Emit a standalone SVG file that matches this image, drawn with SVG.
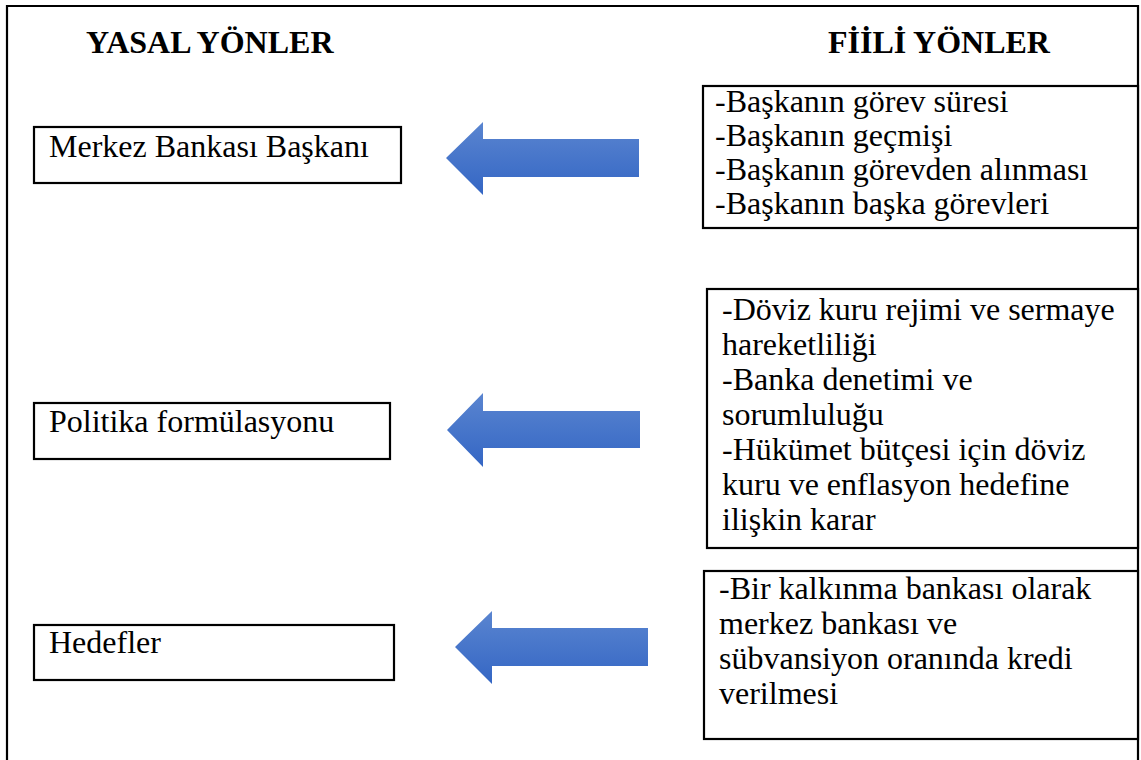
<svg xmlns="http://www.w3.org/2000/svg" width="1141" height="760" viewBox="0 0 1141 760">
<defs>
<linearGradient id="ag" x1="0" y1="0" x2="0" y2="1">
<stop offset="0" stop-color="#5a85d0"/>
<stop offset="1" stop-color="#3466c4"/>
</linearGradient>
<style>
.box{fill:#fff;stroke:#000;stroke-width:2.2}
text{font-family:'Liberation Serif','Times New Roman',Times,serif;font-size:32px;fill:#000;font-weight:400;font-style:normal}
.h{font-weight:700}
.arr{fill:url(#ag)}
</style>
</defs>
<rect width="1141" height="760" fill="#fff"/>
<path d="M7,760 V6 H1138 V760" fill="none" stroke="#000" stroke-width="2.2"/>
<g id="heading-yasal"><text class="h" x="86" y="53">YASAL YÖNLER</text></g>
<g id="heading-fiili"><text class="h" x="828" y="53">FİİLİ YÖNLER</text></g>

<g id="node-merkez">
<rect class="box" x="34" y="127" width="367" height="56"/>
<text x="49" y="157">Merkez Bankası Başkanı</text>
</g>
<g id="node-politika">
<rect class="box" x="34" y="403" width="356" height="56"/>
<text x="49" y="432">Politika formülasyonu</text>
</g>
<g id="node-hedefler">
<rect class="box" x="34" y="625" width="360" height="55"/>
<text x="49" y="653">Hedefler</text>
</g>

<g id="node-fiili-1">
<rect class="box" x="703" y="86" width="435" height="142"/>
<text x="715" y="112">-Başkanın görev süresi</text>
<text x="715" y="146">-Başkanın geçmişi</text>
<text x="715" y="180">-Başkanın görevden alınması</text>
<text x="715" y="214">-Başkanın başka görevleri</text>
</g>
<g id="node-fiili-2">
<rect class="box" x="707" y="289" width="431" height="259"/>
<text x="722" y="320">-Döviz kuru rejimi ve sermaye</text>
<text x="722" y="355">hareketliliği</text>
<text x="722" y="390">-Banka denetimi ve</text>
<text x="722" y="425">sorumluluğu</text>
<text x="722" y="460">-Hükümet bütçesi için döviz</text>
<text x="722" y="495">kuru ve enflasyon hedefine</text>
<text x="722" y="530">ilişkin karar</text>
</g>
<g id="node-fiili-3">
<rect class="box" x="704" y="571" width="434" height="168"/>
<text x="719" y="599">-Bir kalkınma bankası olarak</text>
<text x="719" y="634">merkez bankası ve</text>
<text x="719" y="669">sübvansiyon oranında kredi</text>
<text x="719" y="704">verilmesi</text>
</g>

<g id="connectors">
<polygon class="arr" points="446,158 483,122 483,139 639,139 639,177 483,177 483,195"/>
<polygon class="arr" points="447,430 483,393 483,411 640,411 640,448 483,448 483,467"/>
<polygon class="arr" points="455,647 492,611 492,628 648,628 648,666 492,666 492,684"/>
</g>
</svg>
